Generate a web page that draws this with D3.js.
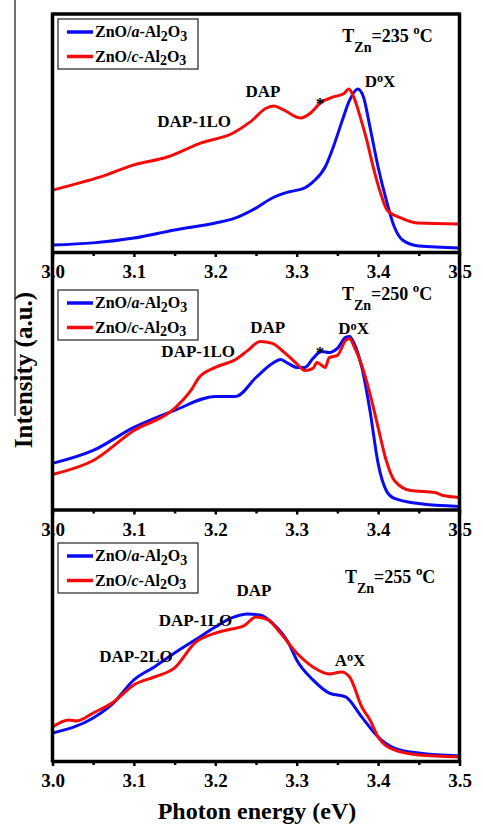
<!DOCTYPE html>
<html>
<head>
<meta charset="utf-8">
<script src="https://cdn.jsdelivr.net/npm/d3@7"></script>
<style>
    body { margin: 0; background: #fff; }
    text { font-family: "Liberation Serif", "Times New Roman", serif; font-weight: bold; fill: #000; }
</style>
</head>
<body>
<div id="chart"></div>
<script>
'use strict';

// ---- data ----
const energyTicks = [3.0, 3.1, 3.2, 3.3, 3.4, 3.5];
const minorTicks = [3.05, 3.15, 3.25, 3.35, 3.45];
const substrates = ["a", "c"];
const growthTemps = [235, 250, 255];

// panel 1, T_Zn = 235 C
const p1aEnergy = [3.0, 3.05, 3.1, 3.15, 3.2, 3.225, 3.25, 3.27, 3.29, 3.31, 3.32, 3.335, 3.345, 3.355, 3.365, 3.375, 3.382, 3.39, 3.4, 3.41, 3.42, 3.43, 3.45, 3.5];
const p1aIntensity = [2.9, 3.8, 5.8, 9.2, 12.1, 14.2, 18.3, 22.5, 25.0, 26.7, 29.2, 35.4, 43.8, 53.8, 63.3, 67.9, 64.6, 52.1, 35.4, 21.7, 10.4, 5.0, 2.5, 1.7];
const p1cEnergy = [3.0, 3.03, 3.059, 3.1, 3.141, 3.182, 3.222, 3.243, 3.263, 3.272, 3.284, 3.305, 3.317, 3.329, 3.345, 3.358, 3.364, 3.37, 3.378, 3.386, 3.394, 3.403, 3.411, 3.428, 3.448, 3.5];
const p1cIntensity = [25.8, 28.5, 31.3, 36.3, 39.6, 45.4, 49.6, 54.2, 60.0, 60.8, 59.2, 55.8, 57.9, 62.1, 64.6, 66.0, 67.9, 64.6, 56.3, 46.7, 35.4, 24.6, 17.5, 14.2, 12.1, 11.7];

// panel 2, T_Zn = 250 C
const p2aEnergy = [3.0, 3.05, 3.1, 3.15, 3.2, 3.225, 3.25, 3.27, 3.28, 3.29, 3.3, 3.31, 3.32, 3.33, 3.34, 3.35, 3.36, 3.365, 3.37, 3.38, 3.39, 3.4, 3.41, 3.42, 3.45, 3.5];
const p2aIntensity = [19.2, 24.6, 34.2, 41.3, 47.1, 47.1, 55.0, 60.8, 62.5, 60.8, 59.2, 59.2, 62.9, 65.8, 65.4, 67.1, 71.7, 72.1, 69.6, 59.2, 41.3, 19.2, 7.9, 4.6, 2.5, 1.3];
const p2cEnergy = [3.0, 3.05, 3.1, 3.15, 3.17, 3.18, 3.2, 3.225, 3.24, 3.255, 3.27, 3.285, 3.3, 3.31, 3.32, 3.325, 3.335, 3.34, 3.35, 3.36, 3.365, 3.37, 3.38, 3.39, 3.4, 3.41, 3.42, 3.44, 3.47, 3.48, 3.5];
const p2cIntensity = [14.6, 20.4, 32.9, 42.1, 49.6, 55.0, 59.2, 62.5, 66.3, 70.0, 69.2, 65.4, 60.8, 57.9, 58.8, 61.3, 59.2, 63.3, 64.2, 70.4, 71.3, 68.3, 60.0, 48.3, 34.2, 20.4, 12.1, 7.9, 7.1, 5.8, 5.0];

// panel 3, T_Zn = 255 C
const p3aEnergy = [3.0, 3.05, 3.075, 3.1, 3.125, 3.15, 3.175, 3.2, 3.22, 3.24, 3.255, 3.27, 3.29, 3.3, 3.32, 3.34, 3.36, 3.38, 3.4, 3.42, 3.45, 3.5];
const p3aIntensity = [11.7, 17.9, 24.2, 33.8, 39.2, 45.0, 50.4, 55.8, 59.6, 61.3, 60.8, 57.5, 49.2, 42.1, 33.8, 28.3, 26.7, 18.3, 10.0, 5.4, 3.3, 2.1];
const p3cEnergy = [3.0, 3.02, 3.03, 3.05, 3.075, 3.1, 3.125, 3.15, 3.175, 3.2, 3.22, 3.235, 3.25, 3.265, 3.28, 3.3, 3.32, 3.34, 3.355, 3.365, 3.38, 3.39, 3.4, 3.42, 3.45, 3.5];
const p3cIntensity = [14.2, 17.1, 16.7, 20.0, 24.6, 31.7, 35.0, 38.8, 49.2, 53.3, 55.0, 56.3, 60.0, 58.8, 53.3, 45.0, 39.2, 36.3, 37.1, 35.0, 22.5, 17.1, 10.0, 4.6, 2.5, 1.7];

// ---- layout ----
const width = 483, height = 824;
const colors = ["#0a0af5", "#f50a0a"];
const panelBottoms = [252, 509.5, 761];
const legendTops = [19, 290, 543];
const frameTop = 14;

// label anchors in data units (energy, intensity) for each panel
const annotations = [
    { temp: [3.356, 87.5], labels: [
        { parts: [{ t: "DAP-1LO" }], at: [3.174, 52.1] },
        { parts: [{ t: "DAP" }], at: [3.2586, 64.6] },
        { parts: [{ t: "*" }], at: [3.3286, 59.5] },
        { parts: [{ t: "D" }, { t: "o", sup: true }, { t: "X" }], at: [3.4023, 68.8] }] },
    { temp: [3.3556, 87.3], labels: [
        { parts: [{ t: "DAP-1LO" }], at: [3.179, 63.5] },
        { parts: [{ t: "DAP" }], at: [3.2644, 73.5] },
        { parts: [{ t: "*" }], at: [3.3286, 63.0] },
        { parts: [{ t: "D" }, { t: "o", sup: true }, { t: "X" }], at: [3.37, 73.1] }] },
    { temp: [3.3593, 74.2], labels: [
        { parts: [{ t: "DAP-2LO" }], at: [3.1026, 41.25] },
        { parts: [{ t: "DAP-1LO" }], at: [3.1757, 56.25] },
        { parts: [{ t: "DAP" }], at: [3.2475, 68.75] },
        { parts: [{ t: "A" }, { t: "o", sup: true }, { t: "X" }], at: [3.3655, 39.6] }] }
];

const series = [
    [[p1aEnergy, p1aIntensity], [p1cEnergy, p1cIntensity]],
    [[p2aEnergy, p2aIntensity], [p2cEnergy, p2cIntensity]],
    [[p3aEnergy, p3aIntensity], [p3cEnergy, p3cIntensity]]
];

const svg = d3.select("#chart")
    .append("svg")
    .attr("width", width)
    .attr("height", height);

svg.append("rect").attr("width", width).attr("height", height).attr("fill", "#fff");

const xScale = d3.scaleLinear().domain([3.0, 3.5]).range([52.5, 459.5]);

// writes text pieces as tspans, handling sub/superscripts and italics
function richText(sel, parts, size) {
    let shift = 0;
    parts.forEach(p => {
        let target = 0;
        let fs = size;
        if (p.sub) { target = p.subShift || size * 0.25; fs = p.small || size * 0.82; }
        if (p.sup) { target = p.supShift || -size * 0.28; fs = size * 0.72; }
        let ts = sel.append("tspan")
            .attr("dy", target - shift)
            .style("font-size", fs + "px")
            .text(p.t);
        if (p.it) ts.style("font-style", "italic");
        shift = target;
    });
}

series.forEach((pair, k) => {
    let bottom = panelBottoms[k];
    let yScale = d3.scaleLinear().domain([0, 100]).range([bottom, bottom - 240]);
    let g = svg.append("g").attr("class", "panel" + k);

    // curves
    let line = d3.line()
        .x(d => xScale(d[0]))
        .y(d => yScale(d[1]))
        .curve(d3.curveMonotoneX);
    pair.forEach((s, j) => {
        g.append("path")
            .datum(d3.zip(s[0], s[1]))
            .attr("fill", "none")
            .attr("stroke", colors[j])
            .attr("stroke-width", 3)
            .attr("stroke-linejoin", "round")
            .attr("d", line);
    });

    // bottom axis with minor ticks
    let axis = g.append("g")
        .attr("transform", "translate(0," + bottom + ")")
        .call(d3.axisBottom(xScale)
            .tickValues(energyTicks)
            .tickFormat(d3.format(".1f"))
            .tickSize(5)
            .tickSizeOuter(0)
            .tickPadding(8));
    axis.attr("font-family", null).attr("font-size", null);
    axis.select(".domain").attr("stroke", "#000").attr("stroke-width", 3.5);
    axis.selectAll(".tick line").attr("stroke", "#000").attr("stroke-width", 2.5);
    axis.selectAll(".tick text")
        .attr("fill", "#000")
        .attr("font-weight", "bold")
        .style("font-size", "19px")
        .style("font-family", "'Liberation Serif', serif")
        .style("font-weight", "bold");
    g.append("g")
        .attr("transform", "translate(0," + bottom + ")")
        .call(d3.axisBottom(xScale).tickValues(minorTicks).tickFormat("").tickSize(4).tickSizeOuter(0))
        .call(a => a.select(".domain").remove())
        .selectAll(".tick line").attr("stroke", "#000").attr("stroke-width", 2.5);

    // legend
    let leg = g.append("g").attr("transform", "translate(58," + legendTops[k] + ")");
    leg.append("rect")
        .attr("width", 140).attr("height", 50)
        .attr("fill", "#fff").attr("stroke", "#333").attr("stroke-width", 1.3);
    substrates.forEach((sub, j) => {
        let cy = 13 + j * 24.5;
        leg.append("line")
            .attr("x1", 9).attr("x2", 35).attr("y1", cy).attr("y2", cy)
            .attr("stroke", colors[j]).attr("stroke-width", 3.5);
        let t = leg.append("text").attr("x", 37).attr("y", cy + 5).style("font-size", "16px");
        richText(t, [{ t: "ZnO/" }, { t: sub, it: true }, { t: "-Al" },
            { t: "2", sub: true, subShift: 3.5, small: 14 }, { t: "O" },
            { t: "3", sub: true, subShift: 3.5, small: 14 }], 16);
    });

    // growth temperature
    let ann = annotations[k];
    let tt = g.append("text")
        .attr("x", xScale(ann.temp[0]))
        .attr("y", yScale(ann.temp[1]))
        .style("font-size", "18px");
    richText(tt, [{ t: "T" }, { t: "Zn", sub: true, subShift: 10, small: 14 },
        { t: "=" + growthTemps[k] + "\u00a0" }, { t: "o", sup: true, supShift: -8 }, { t: "C" }], 18);

    // peak labels
    ann.labels.forEach(lb => {
        let t = g.append("text")
            .attr("x", xScale(lb.at[0]))
            .attr("y", yScale(lb.at[1]))
            .attr("text-anchor", "middle")
            .style("font-size", lb.parts[0].t === "*" ? "19px" : "17px");
        richText(t, lb.parts.map(p => p.sup ? Object.assign({ supShift: -4.5 }, p) : p), 17);
    });
});

// frame: top line and the two long verticals drawn over the tick labels
svg.append("line")
    .attr("x1", xScale(3.0)).attr("x2", xScale(3.5))
    .attr("y1", frameTop).attr("y2", frameTop)
    .attr("stroke", "#000").attr("stroke-width", 3.5);
[3.0, 3.5].forEach(e => {
    svg.append("line")
        .attr("x1", xScale(e)).attr("x2", xScale(e))
        .attr("y1", frameTop - 1.5).attr("y2", panelBottoms[2] + 1.5)
        .attr("stroke", "#000").attr("stroke-width", 3.5);
});

// stray thin rule at the far left of the original figure
svg.append("line")
    .attr("x1", 15).attr("x2", 15).attr("y1", 0).attr("y2", 416)
    .attr("stroke", "#222").attr("stroke-width", 1.3);

// axis titles
svg.append("text")
    .attr("transform", "translate(32,370) rotate(-90)")
    .attr("text-anchor", "middle")
    .style("font-size", "25px")
    .text("Intensity (a.u.)");

svg.append("text")
    .attr("x", 257)
    .attr("y", 819)
    .attr("text-anchor", "middle")
    .style("font-size", "24px")
    .text("Photon energy (eV)");
</script>
</body>
</html>
